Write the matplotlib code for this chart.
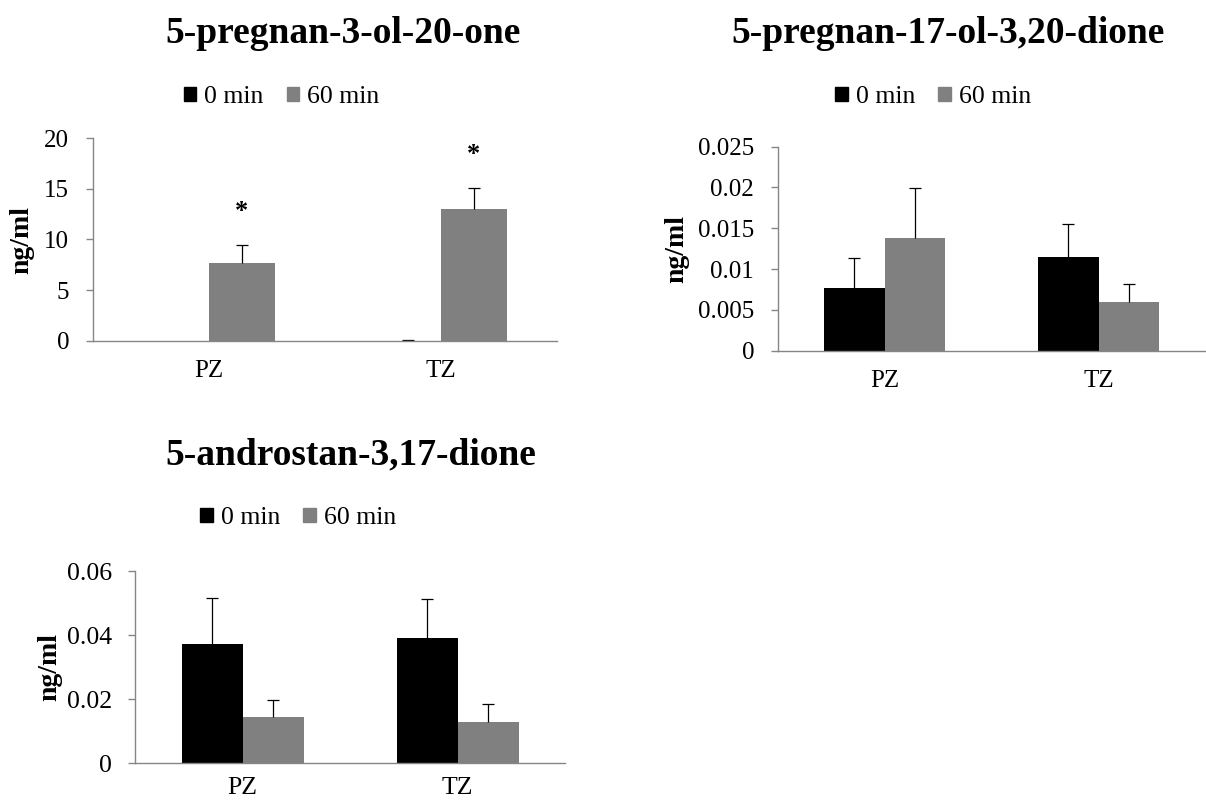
import numpy as np
import matplotlib.pyplot as plt
from matplotlib.patches import Patch

plt.rcParams['font.family'] = ['Liberation Serif', 'DejaVu Serif']

# donnees
categories = ['PZ', 'TZ']
series = ['0 min', '60 min']

# 5-pregnan-3-ol-20-one
preg3_0 = [0.0, 0.0]
preg3_0_err = [0.0, 0.1]
preg3_60 = [7.65, 12.98]
preg3_60_err = [1.78, 2.08]
preg3_stars = ['*', '*']

# 5-pregnan-17-ol-3,20-dione
preg17_0 = [0.00765, 0.01148]
preg17_0_err = [0.00371, 0.00408]
preg17_60 = [0.01377, 0.00593]
preg17_60_err = [0.00621, 0.00221]

# 5-androstan-3,17-dione
andro_0 = [0.0372, 0.0390]
andro_0_err = [0.0145, 0.01226]
andro_60 = [0.01435, 0.01298]
andro_60_err = [0.0054, 0.00552]

black = '#000000'
grey = '#808080'
axis_grey = '#868686'

W, H = 1206, 805
fig = plt.figure(figsize=(W / 100, H / 100), dpi=100)


def px_axes(x0, x1, y0, y1):
    # rectangle en pixels (haut = y0) -> coordonnees figure
    return fig.add_axes([x0 / W, 1 - y1 / H, (x1 - x0) / W, (y1 - y0) / H])


def up_errors(ax, xs, vals, errs):
    # barres d'erreur vers le haut seulement, chapeau en haut
    for xi, v, e in zip(xs, vals, errs):
        if e <= 0:
            continue
        ax.vlines(xi, v, v + e, color='black', lw=0.9, zorder=3)
        ax.plot([xi], [v + e], marker='_', ms=8.5, mew=0.9, color='black', zorder=3)


def draw(ax, v0, e0, v60, e60, ymax, step, fs=18, xpad=14):
    x = np.arange(len(categories))
    w = 0.284
    ax.bar(x - w / 2, v0, w, color=black, zorder=2)
    ax.bar(x + w / 2, v60, w, color=grey, zorder=2)
    up_errors(ax, x - w / 2, v0, e0)
    up_errors(ax, x + w / 2, v60, e60)
    ax.set_xlim(-0.5, len(categories) - 0.5)
    ax.set_ylim(0, ymax)
    ticks = np.round(np.arange(0, ymax + step / 2, step), 6)
    ax.set_yticks(ticks)
    ax.set_yticklabels([f'{t:g}' for t in ticks])
    ax.set_xticks(x)
    ax.set_xticklabels(categories)
    for s in ['top', 'right']:
        ax.spines[s].set_visible(False)
    for s in ['left', 'bottom']:
        ax.spines[s].set_color(axis_grey)
        ax.spines[s].set_linewidth(1.0)
        ax.spines[s].set_zorder(4)
    ax.tick_params(axis='y', length=5, width=1.0, color=axis_grey, labelsize=fs, pad=12)
    ax.tick_params(axis='x', length=0, labelsize=fs, pad=xpad)
    ax.set_ylabel('ng/ml', fontsize=20, fontweight='bold')
    return x, w


def legend(cx, cy):
    handles = [Patch(color=black), Patch(color=grey)]
    fig.legend(handles, series, loc='center', bbox_to_anchor=(cx / W, 1 - cy / H),
               ncol=2, frameon=False, fontsize=18.5, handlelength=0.5, handleheight=0.5,
               handletextpad=0.3, columnspacing=0.9)


# graphe 1
ax1 = px_axes(92.7, 557, 138.3, 340.7)
x, w = draw(ax1, preg3_0, preg3_0_err, preg3_60, preg3_60_err, 20, 5)
for i, s in enumerate(preg3_stars):
    ax1.text(x[i] + w / 2, preg3_60[i] + preg3_60_err[i] + 3.3, s, ha='center', va='center',
             fontsize=19, fontweight='bold')
ax1.yaxis.set_label_coords((34 - 92.7) / (557 - 92.7), 0.5)
fig.text(165 / W, 1 - 43 / H, '5-pregnan-3-ol-20-one', fontsize=27, fontweight='bold',
         ha='left', va='baseline')
legend(281.5, 97)

# graphe 2
ax2 = px_axes(777.7, 1205.5, 146.7, 350.7)
draw(ax2, preg17_0, preg17_0_err, preg17_60, preg17_60_err, 0.025, 0.005)
ax2.yaxis.set_label_coords((689 - 777.7) / (1205.5 - 777.7), 0.5)
fig.text(731.7 / W, 1 - 43 / H, '5-pregnan-17-ol-3,20-dione', fontsize=27, fontweight='bold',
         ha='left', va='baseline')
legend(933, 97)

# graphe 3
ax3 = px_axes(135.3, 565, 571, 763.3)
draw(ax3, andro_0, andro_0_err, andro_60, andro_60_err, 0.06, 0.02, fs=18.5, xpad=10)
ax3.yaxis.set_label_coords((62 - 135.3) / (565 - 135.3), 0.5)
fig.text(165 / W, 1 - 464 / H, '5-androstan-3,17-dione', fontsize=27, fontweight='bold',
         ha='left', va='baseline')
legend(298, 518)

plt.savefig('out.png', dpi=100)
